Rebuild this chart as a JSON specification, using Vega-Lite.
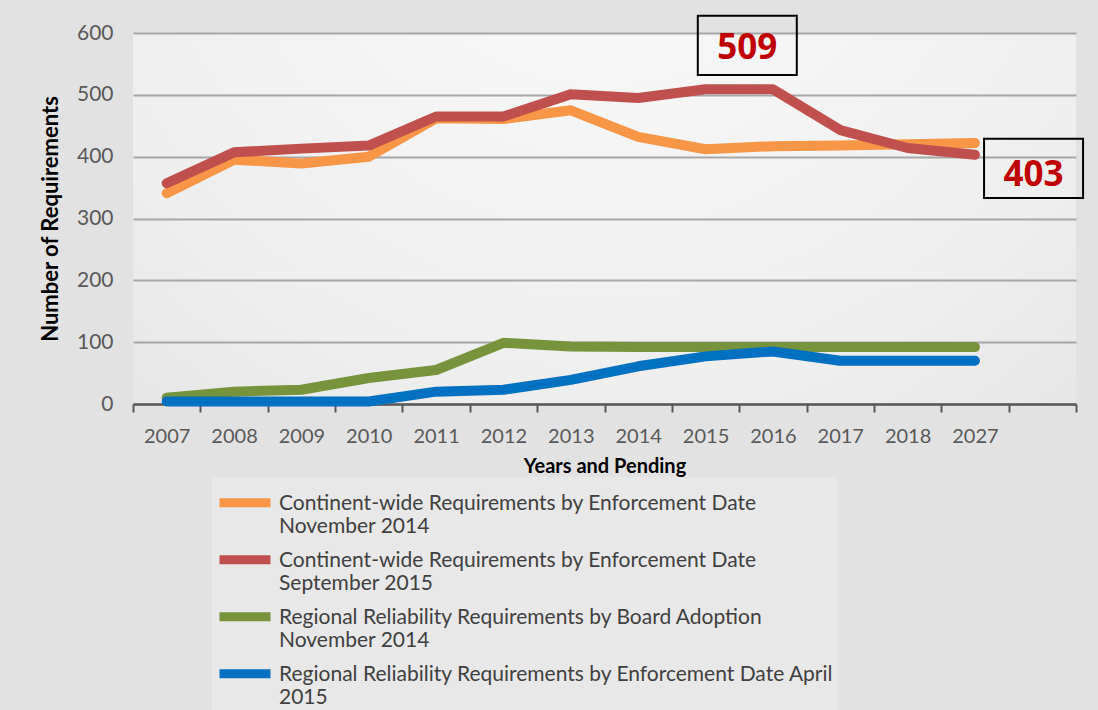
{
  "$schema": "https://vega.github.io/schema/vega-lite/v6.json",
  "autosize": "none",
  "width": 943,
  "height": 371,
  "padding": {"left": 133, "top": 33, "right": 22, "bottom": 306},
  "background": "#e2e2e2",
  "config": {
    "font": "Lato",
    "style": {"guide-label": {"lineHeight": 23}},
    "view": {
      "stroke": null,
      "fill": {
        "gradient": "radial",
        "x1": 0.5, "y1": 0.1, "x2": 0.5, "y2": 0.1,
        "r1": 0, "r2": 1.0,
        "stops": [
          {"offset": 0, "color": "#fcfcfc"},
          {"offset": 0.6, "color": "#eeeeee"},
          {"offset": 1, "color": "#dedede"}
        ]
      }
    }
  },
  "datasets": {
    "series": [
      {"year": "2007", "series": "Continent-wide Requirements by Enforcement Date November 2014", "value": 341},
      {"year": "2008", "series": "Continent-wide Requirements by Enforcement Date November 2014", "value": 395},
      {"year": "2009", "series": "Continent-wide Requirements by Enforcement Date November 2014", "value": 389},
      {"year": "2010", "series": "Continent-wide Requirements by Enforcement Date November 2014", "value": 400},
      {"year": "2011", "series": "Continent-wide Requirements by Enforcement Date November 2014", "value": 462},
      {"year": "2012", "series": "Continent-wide Requirements by Enforcement Date November 2014", "value": 461},
      {"year": "2013", "series": "Continent-wide Requirements by Enforcement Date November 2014", "value": 475},
      {"year": "2014", "series": "Continent-wide Requirements by Enforcement Date November 2014", "value": 432},
      {"year": "2015", "series": "Continent-wide Requirements by Enforcement Date November 2014", "value": 412},
      {"year": "2016", "series": "Continent-wide Requirements by Enforcement Date November 2014", "value": 417},
      {"year": "2017", "series": "Continent-wide Requirements by Enforcement Date November 2014", "value": 418},
      {"year": "2018", "series": "Continent-wide Requirements by Enforcement Date November 2014", "value": 420},
      {"year": "2027", "series": "Continent-wide Requirements by Enforcement Date November 2014", "value": 422},
      {"year": "2007", "series": "Continent-wide Requirements by Enforcement Date September 2015", "value": 357},
      {"year": "2008", "series": "Continent-wide Requirements by Enforcement Date September 2015", "value": 407},
      {"year": "2009", "series": "Continent-wide Requirements by Enforcement Date September 2015", "value": 413},
      {"year": "2010", "series": "Continent-wide Requirements by Enforcement Date September 2015", "value": 418},
      {"year": "2011", "series": "Continent-wide Requirements by Enforcement Date September 2015", "value": 465},
      {"year": "2012", "series": "Continent-wide Requirements by Enforcement Date September 2015", "value": 465},
      {"year": "2013", "series": "Continent-wide Requirements by Enforcement Date September 2015", "value": 501},
      {"year": "2014", "series": "Continent-wide Requirements by Enforcement Date September 2015", "value": 495},
      {"year": "2015", "series": "Continent-wide Requirements by Enforcement Date September 2015", "value": 509},
      {"year": "2016", "series": "Continent-wide Requirements by Enforcement Date September 2015", "value": 509},
      {"year": "2017", "series": "Continent-wide Requirements by Enforcement Date September 2015", "value": 443},
      {"year": "2018", "series": "Continent-wide Requirements by Enforcement Date September 2015", "value": 414},
      {"year": "2027", "series": "Continent-wide Requirements by Enforcement Date September 2015", "value": 403},
      {"year": "2007", "series": "Regional Reliability Requirements by Board Adoption November 2014", "value": 10},
      {"year": "2008", "series": "Regional Reliability Requirements by Board Adoption November 2014", "value": 20},
      {"year": "2009", "series": "Regional Reliability Requirements by Board Adoption November 2014", "value": 23},
      {"year": "2010", "series": "Regional Reliability Requirements by Board Adoption November 2014", "value": 42},
      {"year": "2011", "series": "Regional Reliability Requirements by Board Adoption November 2014", "value": 55},
      {"year": "2012", "series": "Regional Reliability Requirements by Board Adoption November 2014", "value": 99},
      {"year": "2013", "series": "Regional Reliability Requirements by Board Adoption November 2014", "value": 93},
      {"year": "2014", "series": "Regional Reliability Requirements by Board Adoption November 2014", "value": 92},
      {"year": "2015", "series": "Regional Reliability Requirements by Board Adoption November 2014", "value": 92},
      {"year": "2016", "series": "Regional Reliability Requirements by Board Adoption November 2014", "value": 92},
      {"year": "2017", "series": "Regional Reliability Requirements by Board Adoption November 2014", "value": 92},
      {"year": "2018", "series": "Regional Reliability Requirements by Board Adoption November 2014", "value": 92},
      {"year": "2027", "series": "Regional Reliability Requirements by Board Adoption November 2014", "value": 92},
      {"year": "2007", "series": "Regional Reliability Requirements by Enforcement Date April 2015", "value": 4},
      {"year": "2008", "series": "Regional Reliability Requirements by Enforcement Date April 2015", "value": 4},
      {"year": "2009", "series": "Regional Reliability Requirements by Enforcement Date April 2015", "value": 4},
      {"year": "2010", "series": "Regional Reliability Requirements by Enforcement Date April 2015", "value": 4},
      {"year": "2011", "series": "Regional Reliability Requirements by Enforcement Date April 2015", "value": 20},
      {"year": "2012", "series": "Regional Reliability Requirements by Enforcement Date April 2015", "value": 23},
      {"year": "2013", "series": "Regional Reliability Requirements by Enforcement Date April 2015", "value": 39},
      {"year": "2014", "series": "Regional Reliability Requirements by Enforcement Date April 2015", "value": 61},
      {"year": "2015", "series": "Regional Reliability Requirements by Enforcement Date April 2015", "value": 77},
      {"year": "2016", "series": "Regional Reliability Requirements by Enforcement Date April 2015", "value": 85},
      {"year": "2017", "series": "Regional Reliability Requirements by Enforcement Date April 2015", "value": 70},
      {"year": "2018", "series": "Regional Reliability Requirements by Enforcement Date April 2015", "value": 70},
      {"year": "2027", "series": "Regional Reliability Requirements by Enforcement Date April 2015", "value": 70}
    ]
  },
  "layer": [
    {
      "data": {"name": "series"},
      "mark": {"type": "line", "strokeWidth": 10, "strokeCap": "round", "strokeJoin": "round"},
      "encoding": {
        "x": {
          "field": "year", "type": "nominal", "bandPosition": 0.5,
          "scale": {"type": "band", "domain": ["2007","2008","2009","2010","2011","2012","2013","2014","2015","2016","2017","2018","2027"," "], "paddingInner": 0, "paddingOuter": 0},
          "axis": {
            "title": "Years and Pending", "titleFontSize": 20, "titleFontWeight": "bold", "titleColor": "#000000", "titlePadding": 10,
            "tickBand": "extent", "ticks": true, "tickSize": 8, "tickWidth": 2, "tickColor": "#595959",
            "domainColor": "#595959", "domainWidth": 2.5,
            "labelFontSize": 20, "labelColor": "#595959", "labelPadding": 14, "labelAngle": 0,
            "grid": false
          }
        },
        "y": {
          "field": "value", "type": "quantitative",
          "scale": {"domain": [0, 600], "nice": false},
          "axis": {
            "title": "Number of Requirements", "titleFontSize": 22, "titleFontWeight": "bold", "titleColor": "#000000", "titlePadding": 14,
            "values": [0,100,200,300,400,500,600],
            "domain": false, "ticks": false,
            "labelFontSize": 21, "labelColor": "#595959", "labelPadding": 20,
            "grid": true, "gridColor": "#a6a6a6", "gridWidth": 2
          }
        },
        "color": {
          "field": "series", "type": "nominal",
          "scale": {
            "domain": [
              "Continent-wide Requirements by Enforcement Date November 2014",
              "Continent-wide Requirements by Enforcement Date September 2015",
              "Regional Reliability Requirements by Board Adoption November 2014",
              "Regional Reliability Requirements by Enforcement Date April 2015"
            ],
            "range": ["#F79646", "#C0504D", "#77933C", "#0070C0"]
          },
          "legend": {
            "title": null,
            "orient": "none",
            "legendX": 79,
            "legendY": 444,
            "direction": "vertical",
            "fillColor": "#e8e8e8",
            "padding": 3,
            "symbolType": "M-1,-0.28H1",
            "symbolStrokeWidth": 9,
            "symbolSize": 2600,
            "labelFontSize": 21,
            "labelColor": "#404040",
            "labelLimit": 800,
            "labelBaseline": "alphabetic",
            "labelOffset": 4,
            "labelExpr": "indexof(datum.label, 'April') >= 0 ? ['Regional Reliability Requirements by Enforcement Date April', '2015'] : indexof(datum.label, 'September') >= 0 ? [replace(datum.label, ' September 2015', ''), 'September 2015'] : [replace(datum.label, ' November 2014', ''), 'November 2014']",
            "rowPadding": 0
          }
        }
      }
    },
    {
      "data": {"values": [{"year": "2015", "value": 580, "label": "509"}]},
      "encoding": {
        "x": {"field": "year", "type": "nominal", "bandPosition": 1.12},
        "y": {"field": "value", "type": "quantitative"}
      },
      "layer": [
        {"mark": {"type": "point", "shape": "M-1,-0.6H1V0.6H-1Z", "size": 9801, "filled": false, "stroke": "#000000", "strokeWidth": 2, "opacity": 1}},
        {"mark": {"type": "text", "font": "Open Sans", "fontSize": 35, "fontWeight": "bold", "color": "#C00000", "baseline": "middle", "dy": 3}, "encoding": {"text": {"field": "label"}}}
      ]
    },
    {
      "data": {"values": [{"year": " ", "value": 381, "label": "403"}]},
      "encoding": {
        "x": {"field": "year", "type": "nominal", "bandPosition": 0.37},
        "y": {"field": "value", "type": "quantitative"}
      },
      "layer": [
        {"mark": {"type": "point", "shape": "M-1,-0.6H1V0.6H-1Z", "size": 9801, "filled": false, "stroke": "#000000", "strokeWidth": 2, "opacity": 1}},
        {"mark": {"type": "text", "font": "Open Sans", "fontSize": 35, "fontWeight": "bold", "color": "#C00000", "baseline": "middle", "dy": 7}, "encoding": {"text": {"field": "label"}}}
      ]
    }
  ]
}
